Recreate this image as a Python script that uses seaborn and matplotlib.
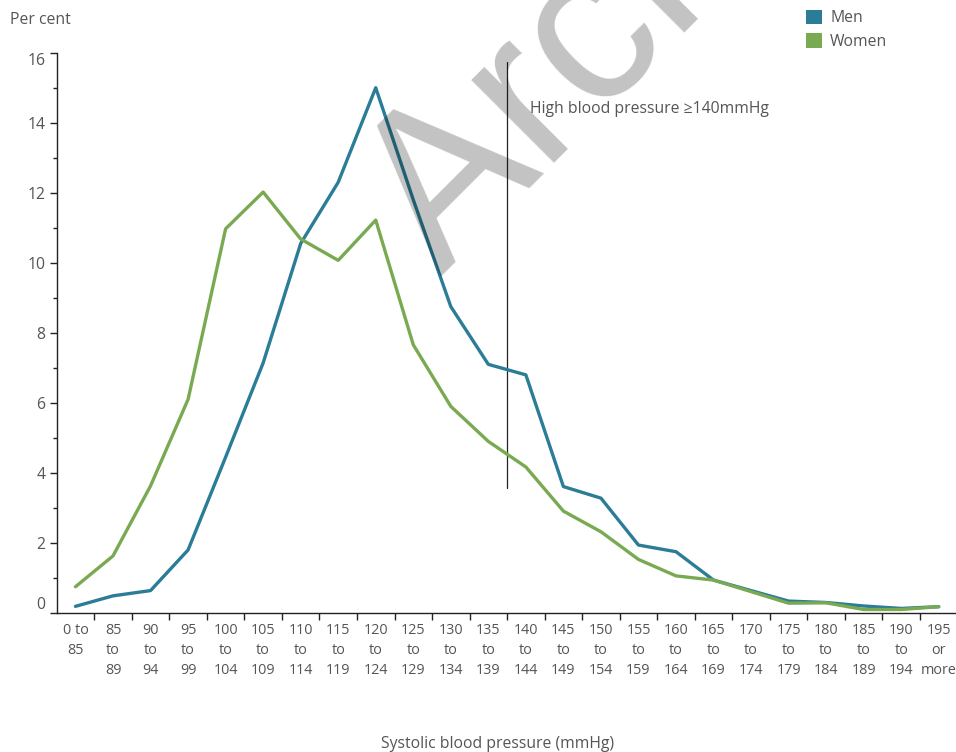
import numpy as np
import pandas as pd
import matplotlib
matplotlib.use("Agg")
import matplotlib.pyplot as plt
from matplotlib.patches import Patch
from matplotlib.ticker import FixedLocator
import seaborn as sns

categories = ["0 to\n85", "85\nto\n89", "90\nto\n94", "95\nto\n99", "100\nto\n104", "105\nto\n109",
              "110\nto\n114", "115\nto\n119", "120\nto\n124", "125\nto\n129", "130\nto\n134",
              "135\nto\n139", "140\nto\n144", "145\nto\n149", "150\nto\n154", "155\nto\n159",
              "160\nto\n164", "165\nto\n169", "170\nto\n174", "175\nto\n179", "180\nto\n184",
              "185\nto\n189", "190\nto\n194", "195\nor\nmore"]
men = [0.19, 0.49, 0.64, 1.8, 4.45, 7.14, 10.55, 12.3, 15.0, 11.8, 8.75, 7.1,
       6.8, 3.61, 3.28, 1.94, 1.75, 0.94, 0.64, 0.34, 0.3, 0.2, 0.13, 0.18]
women = [0.75, 1.63, 3.63, 6.1, 10.97, 12.02, 10.68, 10.07, 11.22, 7.66, 5.9, 4.9,
         4.17, 2.91, 2.32, 1.53, 1.06, 0.94, 0.61, 0.28, 0.29, 0.1, 0.1, 0.18]
series_names = ["Men", "Women"]
colors = {"Men": "#2b7c96", "Women": "#79aa52"}
y_ticks = [0, 2, 4, 6, 8, 10, 12, 14, 16]
threshold_pos = 11.5
threshold_span = (3.57, 15.74)
annotation = "High blood pressure \u2265140mmHg"

df = pd.DataFrame({
    "idx": list(range(len(categories))) * 2,
    "value": men + women,
    "sex": ["Men"] * len(men) + ["Women"] * len(women),
})

sns.set_style("white")
plt.rcParams["font.family"] = ["Open Sans", "DejaVu Sans"]
text_col = "#555555"
fs = 11.3
fs_x = 10.4

fig = plt.figure(figsize=(9.56, 7.52), dpi=100)
ax = fig.add_axes([56.7 / 956, 139 / 752, 900.8 / 956, 560.3 / 752])

sns.lineplot(data=df, x="idx", y="value", hue="sex", palette=colors, linewidth=2.4,
             ax=ax, legend=False, zorder=3)

ax.set_xlim(-0.5, len(categories) - 0.5)
ax.set_ylim(0, 16)

for s in ["top", "right"]:
    ax.spines[s].set_visible(False)
for s in ["left", "bottom"]:
    ax.spines[s].set_color("#222222")
    ax.spines[s].set_linewidth(1.0)

ax.set_yticks(y_ticks)
ax.set_yticklabels([str(v) for v in y_ticks])
ax.yaxis.set_minor_locator(FixedLocator([v + 1 for v in y_ticks[:-1]]))
ax.tick_params(axis="y", which="major", length=5, width=1, color="#222222", pad=3,
               labelsize=fs, labelcolor=text_col, left=True)
ax.tick_params(axis="y", which="minor", length=3, width=1, color="#222222", left=True)
ylabels = ax.get_yticklabels()
ylabels[0].set_va("bottom")
ylabels[-1].set_va("top")

ax.set_xticks(range(len(categories)))
ax.set_xticklabels(categories, linespacing=1.45)
ax.xaxis.set_minor_locator(FixedLocator([i + 0.5 for i in range(len(categories) - 1)]))
ax.tick_params(axis="x", which="major", length=0, pad=7, labelsize=fs_x, labelcolor=text_col)
ax.tick_params(axis="x", which="minor", length=5, width=1, color="#222222", bottom=True)
for lab in ax.get_xticklabels():
    lab.set_va("top")
ax.set_xlabel("")
ax.set_ylabel("")

ax.plot([threshold_pos, threshold_pos], list(threshold_span), color="#222222", lw=0.9, zorder=2)
ax.text(threshold_pos + 0.6, 14.4, annotation, ha="left", va="center", fontsize=fs,
        color=text_col, family=["Open Sans", "DejaVu Sans"])

fig.text(10 / 956, 1 - 20 / 752, "Per cent", ha="left", va="center", fontsize=fs, color=text_col)
fig.text(498 / 956, 1 - 744 / 752, "Systolic blood pressure (mmHg)", ha="center", va="center",
         fontsize=fs, color=text_col)

handles = [Patch(facecolor=colors[n], edgecolor="none", label=n) for n in series_names]
leg = fig.legend(handles=handles, loc="upper left", bbox_to_anchor=(801 / 956, 1 - 5 / 752),
                 frameon=False, fontsize=fs, handlelength=1.05, handleheight=1.05,
                 handletextpad=0.5, labelspacing=0.45, borderaxespad=0, borderpad=0.3)
for t in leg.get_texts():
    t.set_color(text_col)

# watermark
fig.text(440 / 956, 1 - 277 / 752, "Archived", rotation=45, rotation_mode="anchor",
         ha="left", va="baseline", fontsize=159, color="black", alpha=0.24,
         family="Liberation Sans", zorder=10)

fig.savefig("out.png", dpi=100)
